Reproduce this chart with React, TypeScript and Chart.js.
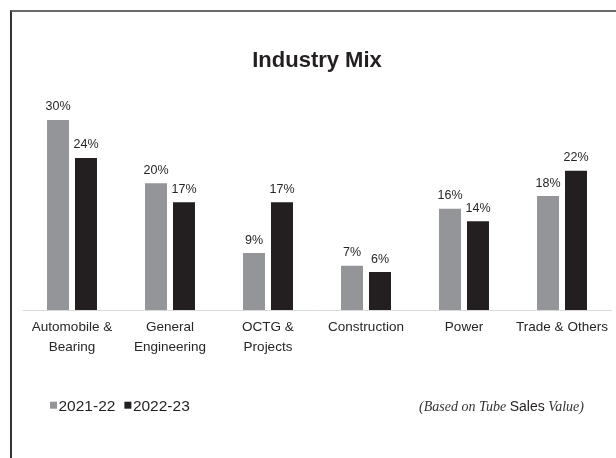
import { useEffect, useRef } from "react";
import { Chart, registerables } from "chart.js";

Chart.register(...registerables);

const chartTitle = "Industry Mix";
const categories: (string | string[])[] = [
  ["Automobile &", "Bearing"],
  ["General", "Engineering"],
  ["OCTG &", "Projects"],
  "Construction",
  "Power",
  "Trade & Others",
];
const seriesNames = ["2021-22", "2022-23"];
const values2021_22 = [30, 20, 9, 7, 16, 18];
const values2022_23 = [24, 17, 17, 6, 14, 22];
const seriesColors = ["#939598", "#231f20"];
const noteParts = [
  { text: "(Based on Tube ", kind: "serif" },
  { text: "Sales", kind: "sans" },
  { text: " Value)", kind: "serif" },
];
const yMax = 35;

const SANS = '"Liberation Sans", Arial, sans-serif';
const SERIF = '"Liberation Serif", "Times New Roman", serif';

const valueLabels = {
  id: "valueLabels",
  afterDatasetsDraw(chart: any) {
    const ctx = chart.ctx;
    ctx.save();
    ctx.font = `12.5px ${SANS}`;
    ctx.fillStyle = "#262626";
    ctx.textAlign = "center";
    ctx.textBaseline = "alphabetic";
    chart.data.datasets.forEach((ds: any, i: number) => {
      const meta = chart.getDatasetMeta(i);
      meta.data.forEach((el: any, j: number) => {
        ctx.fillText(`${ds.data[j]}%`, el.x, el.y - 9.5);
      });
    });
    ctx.restore();
  },
};

const legendAndNote = {
  id: "legendAndNote",
  afterDraw(chart: any) {
    const ctx = chart.ctx;
    ctx.save();
    const baseY = 410.5;
    ctx.textBaseline = "alphabetic";
    ctx.textAlign = "left";
    ctx.font = `15.5px ${SANS}`;
    let x = 50;
    chart.data.datasets.forEach((ds: any) => {
      ctx.fillStyle = ds.backgroundColor;
      ctx.fillRect(x, baseY - 8.8, 7, 7);
      x += 8.5;
      ctx.fillStyle = "#231f20";
      ctx.fillText(ds.label, x, baseY);
      x += ctx.measureText(ds.label).width + 9;
    });

    const fontFor = (kind: string) =>
      kind === "serif" ? `italic 14px ${SERIF}` : `14px ${SANS}`;
    let total = 0;
    noteParts.forEach((p) => {
      ctx.font = fontFor(p.kind);
      total += ctx.measureText(p.text).width;
    });
    let nx = 584 - total;
    noteParts.forEach((p) => {
      ctx.font = fontFor(p.kind);
      ctx.fillStyle = p.kind === "serif" ? "#333333" : "#231f20";
      ctx.fillText(p.text, nx, baseY);
      nx += ctx.measureText(p.text).width;
    });
    ctx.restore();
  },
};

export default function App() {
  const canvasRef = useRef<HTMLCanvasElement | null>(null);

  useEffect(() => {
    if (!canvasRef.current) return;
    const chart = new Chart(canvasRef.current, {
      type: "bar",
      data: {
        labels: categories,
        datasets: [
          {
            label: seriesNames[0],
            data: values2021_22,
            backgroundColor: seriesColors[0],
            borderWidth: 0,
            categoryPercentage: 0.571,
            barPercentage: 0.786,
          },
          {
            label: seriesNames[1],
            data: values2022_23,
            backgroundColor: seriesColors[1],
            borderWidth: 0,
            categoryPercentage: 0.571,
            barPercentage: 0.786,
          },
        ],
      },
      options: {
        responsive: false,
        animation: false,
        devicePixelRatio: 1,
        layout: { padding: { top: 10, left: 23, right: 5, bottom: 94 } },
        plugins: {
          legend: { display: false },
          tooltip: { enabled: false },
          title: {
            display: true,
            text: chartTitle,
            color: "#231f20",
            font: { family: SANS, size: 22, weight: "bold" },
            padding: { top: 37.6, bottom: 14.3 },
          },
        },
        scales: {
          x: {
            grid: { display: false, drawTicks: false, tickLength: 0 },
            border: { display: true, color: "#d9d9d9", width: 1 },
            ticks: {
              color: "#262626",
              font: { family: SANS, size: 13.5, lineHeight: 1.48 },
              padding: 7,
              maxRotation: 0,
              minRotation: 0,
              autoSkip: false,
            },
          },
          y: {
            display: false,
            min: 0,
            max: yMax,
            grid: { display: false },
          },
        },
      },
      plugins: [valueLabels, legendAndNote],
    });
    return () => chart.destroy();
  }, []);

  return (
    <div
      style={{
        position: "fixed",
        left: 0,
        top: 0,
        width: 616,
        height: 458,
        background: "#ffffff",
        overflow: "hidden",
      }}
    >
      <div
        style={{
          position: "absolute",
          left: 10,
          top: 10,
          width: 640,
          height: 480,
          borderTop: "2px solid #6b6b6b",
          borderLeft: "2px solid #333333",
          boxSizing: "border-box",
        }}
      />
      <canvas
        ref={canvasRef}
        width={616}
        height={458}
        style={{ position: "absolute", left: 0, top: 0 }}
      />
    </div>
  );
}
